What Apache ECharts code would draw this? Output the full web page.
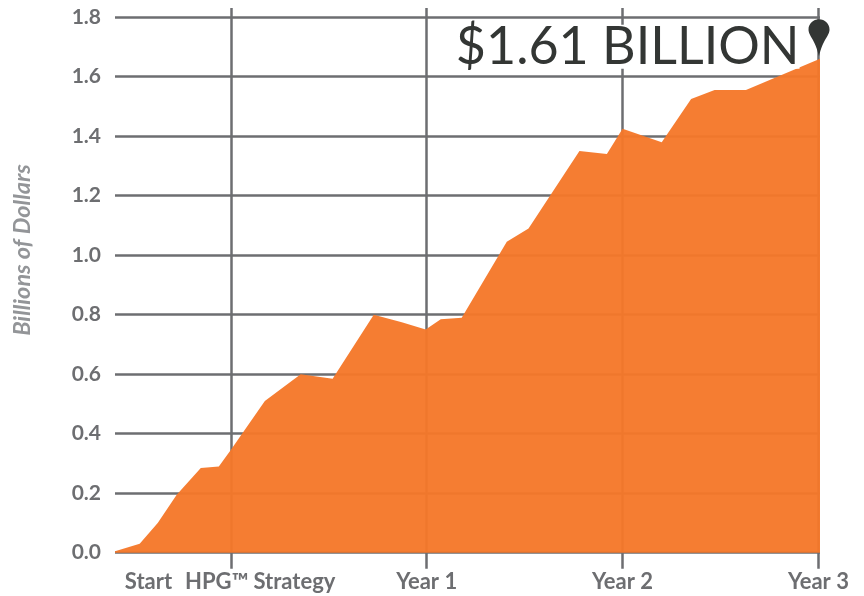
<!DOCTYPE html>
<html>
<head>
    <meta http-equiv="content-type" content="text/html; charset=utf-8">
    <script src="https://cdn.jsdelivr.net/npm/echarts@6/dist/echarts.min.js"></script>
    <style type="text/css">
        html, body { margin: 0; padding: 0; background: #fff; }
        #main { width: 864px; height: 596px; }
    </style>
</head>
<body>
    <div id="main"></div>
    <script type="text/javascript">
        // months since start, and value in billions of dollars
        var months = [0.09, 1.35, 2.27, 3.24, 4.47, 5.39, 6, 7.74, 9.57, 11.2, 13.3, 14.73, 15.95,
            16.72, 17.79, 20.09, 21.2, 23.8, 25.2, 26, 28, 29.5, 30.7, 32.3, 36.08];
        var values = [0.005, 0.03, 0.10, 0.195, 0.285, 0.29, 0.345, 0.51, 0.60, 0.585, 0.80, 0.775, 0.75,
            0.785, 0.79, 1.045, 1.09, 1.35, 1.34, 1.425, 1.38, 1.525, 1.555, 1.555, 1.66];
        var yTicks = [0, 0.2, 0.4, 0.6, 0.8, 1.0, 1.2, 1.4, 1.6, 1.8];
        var xTicks = [6, 16, 26, 36];
        var xLabelAt = [1.8, 7.5, 16, 26, 36];
        var xLabels = ['Start', 'HPG™ Strategy', 'Year 1', 'Year 2', 'Year 3'];
        var yTitle = 'Billions of Dollars';
        var callout = '$1.61 BILLION';

        var gray = '#6d6e71';
        var font = 'Lato';
        var pin = 'path://M10 0C4.5 0 0 4.4 0 9.9C0 16 6.5 20 10 36C13.5 20 20 16 20 9.9C20 4.4 15.5 0 10 0Z';

        var chart = echarts.init(document.getElementById('main'));
        var option = {
            animation: false,
            backgroundColor: '#fff',
            grid: { left: 115, width: 705, top: 8, height: 544.7 },
            graphic: [{
                type: 'text',
                x: 22,
                y: 250,
                rotation: Math.PI / 2,
                style: {
                    text: yTitle,
                    align: 'center',
                    verticalAlign: 'middle',
                    fill: '#939598',
                    font: 'italic bold 23.5px Lato'
                }
            }],
            xAxis: {
                type: 'value',
                min: 0.09,
                max: 36.08,
                axisLine: { show: false },
                axisTick: { show: true, length: 16, customValues: xTicks, lineStyle: { color: gray, width: 2.5 } },
                splitLine: { show: true, lineStyle: { color: gray, width: 2.5 } },
                axisLabel: {
                    customValues: xLabelAt,
                    margin: 18,
                    color: gray,
                    fontFamily: font,
                    fontWeight: 'bold',
                    fontSize: 22,
                    formatter: function (v) { return xLabels[xLabelAt.indexOf(v)]; }
                }
            },
            yAxis: {
                type: 'value',
                min: 0,
                max: 1.831,
                axisLine: { show: false },
                axisTick: { show: false, customValues: yTicks },
                splitLine: { show: true, lineStyle: { color: gray, width: 2.5 } },
                axisLabel: {
                    customValues: yTicks,
                    margin: 14,
                    color: gray,
                    fontFamily: font,
                    fontWeight: 'bold',
                    fontSize: 21,
                    formatter: function (v) { return v.toFixed(1); }
                }
            },
            series: [{
                type: 'line',
                data: months.map(function (m, i) { return [m, values[i]]; }),
                symbol: 'none',
                lineStyle: { width: 0 },
                areaStyle: { color: '#f5782a', opacity: 0.96 },
                clip: false,
                markPoint: {
                    silent: true,
                    data: [{
                        coord: [months[months.length - 1] - 0.05, values[values.length - 1]],
                        symbol: pin,
                        symbolSize: [21, 37],
                        symbolOffset: [0, -21],
                        itemStyle: { color: '#333634' },
                        label: {
                            show: true,
                            position: 'left',
                            distance: 9,
                            offset: [0, 9],
                            formatter: callout,
                            color: '#333634',
                            fontFamily: font,
                            fontWeight: 400,
                            fontSize: 52,
                            lineHeight: 44,
                            backgroundColor: '#fff'
                        }
                    }]
                }
            }]
        };
        chart.setOption(option);
    </script>
</body>
</html>
